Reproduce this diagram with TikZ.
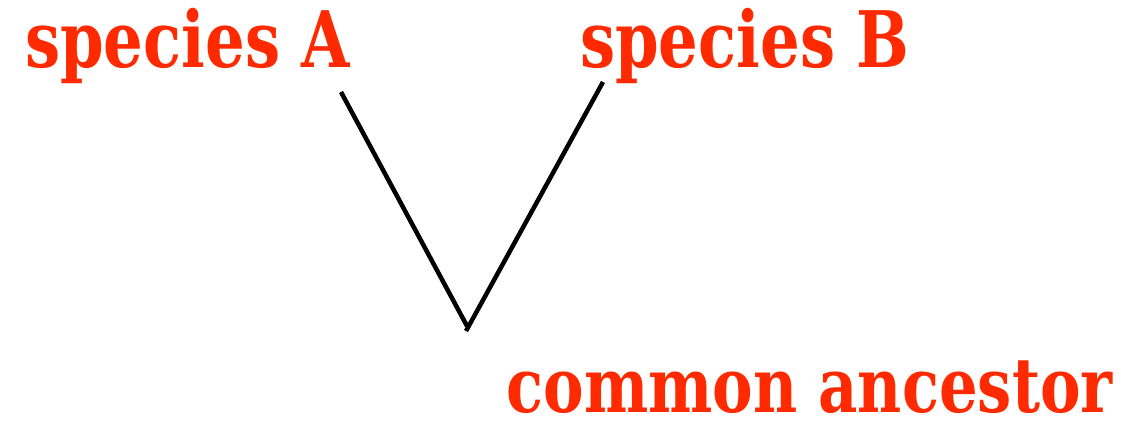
\documentclass[tikz,border=0pt]{standalone}
\usepackage{fontspec}
\setmainfont{DejaVu Serif}
\newfontfamily\labelfont[FakeStretch=0.80]{DejaVu Serif Bold}
\definecolor{labelred}{RGB}{255,42,0}

\begin{document}
\begin{tikzpicture}[x=1pt,y=-1pt,
  taxon/.style={inner sep=0pt,text=labelred,font=\labelfont\fontsize{78}{78}\selectfont},
  branch/.style={line width=4.5pt}]
\useasboundingbox (0,0) rectangle (1121,421);

\node (spA) [taxon,anchor=base west] at (25,67) {species A};
\node (spB) [taxon,anchor=base west] at (580,67) {species B};
\node (anc) [taxon,anchor=base east,font=\labelfont\fontsize{76}{76}\selectfont]
  at (1113,412) {common ancestor};

\coordinate (tipA) at (341,92);
\coordinate (tipB) at (603,82);
\coordinate (rootA) at (467,326);
\coordinate (root) at (466,331);

\draw [branch] (tipA) -- (rootA);
\draw [branch] (tipB) -- (root);
\end{tikzpicture}
\end{document}
